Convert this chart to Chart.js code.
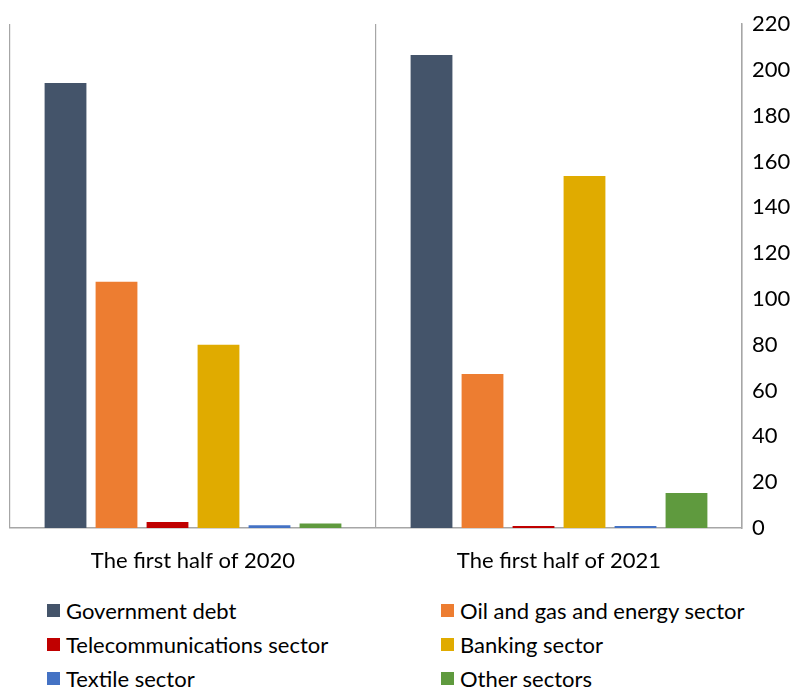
<!DOCTYPE html>
<html>
<head>
<meta charset="utf-8">
<script src="https://cdn.jsdelivr.net/npm/chart.js@4"></script>
<style>
  html, body { margin: 0; padding: 0; background: #fff; }
  #wrap { position: relative; width: 808px; height: 689px; }
  #chartBox { position: absolute; left: 0; top: 0; width: 808px; height: 585px; }
  #legend { position: absolute; left: 47px; top: 597px; width: 760px;
    display: grid; grid-template-columns: 394px 360px; row-gap: 8px;
    font-family: Lato, "Open Sans", sans-serif; font-size: 22px; color: #000; }
  .item { display: flex; align-items: center; height: 26px; white-space: nowrap; }
  .sw { width: 13px; height: 13px; margin-right: 6px; flex: none; }
</style>
</head>
<body>
<div id="wrap">
  <div id="chartBox"><canvas id="c"></canvas></div>
  <div id="legend"></div>
</div>
<script>
const categories = ["The first half of 2020", "The first half of 2021"];
const seriesNames = ["Government debt", "Oil and gas and energy sector", "Telecommunications sector", "Banking sector", "Textile sector", "Other sectors"];
const governmentDebt = [194.2, 206.5];
const oilGasEnergy = [107.5, 67.2];
const telecommunications = [2.6, 0.9];
const banking = [80, 153.7];
const textile = [1.2, 0.9];
const otherSectors = [2.0, 15.3];
const yTicks = [0, 20, 40, 60, 80, 100, 120, 140, 160, 180, 200, 220];
const colors = ["#44546A", "#ED7D31", "#C00000", "#E0AB00", "#4472C4", "#5F9A3E"];

const values = [governmentDebt, oilGasEnergy, telecommunications, banking, textile, otherSectors];
const datasets = seriesNames.map((n, i) => ({
  label: n,
  data: values[i],
  backgroundColor: colors[i],
  borderWidth: 0,
  categoryPercentage: 0.836,
  barPercentage: 0.82
}));

const font = { family: "Lato, 'Open Sans', sans-serif", size: 22 };

new Chart(document.getElementById("c"), {
  type: "bar",
  data: { labels: categories, datasets },
  options: {
    responsive: true,
    maintainAspectRatio: false,
    animation: false,
    layout: { padding: { left: 10, top: 24, right: 0, bottom: 0 } },
    plugins: { legend: { display: false }, tooltip: { enabled: false } },
    scales: {
      x: {
        grid: { display: true, offset: true, color: "#A6A6A6", lineWidth: 1.2, drawTicks: false },
        border: { display: true, color: "#A6A6A6", width: 1.5 },
        ticks: { color: "#000", font, padding: 20 },
        afterFit: (s) => { s.height = 57; }
      },
      y: {
        position: "right",
        min: 0, max: 220,
        afterBuildTicks: (s) => { s.ticks = yTicks.map(v => ({ value: v })); },
        afterFit: (s) => { s.width = 66; },
        grid: { display: false, drawTicks: false },
        border: { display: true, color: "#A6A6A6", width: 1.5 },
        ticks: { color: "#000", font, padding: 10, crossAlign: "near" }
      }
    }
  }
});

const leg = document.getElementById("legend");
seriesNames.forEach((n, i) => {
  const d = document.createElement("div");
  d.className = "item";
  d.innerHTML = '<span class="sw" style="background:' + colors[i] + '"></span><span>' + n + '</span>';
  leg.appendChild(d);
});
</script>
</body>
</html>
